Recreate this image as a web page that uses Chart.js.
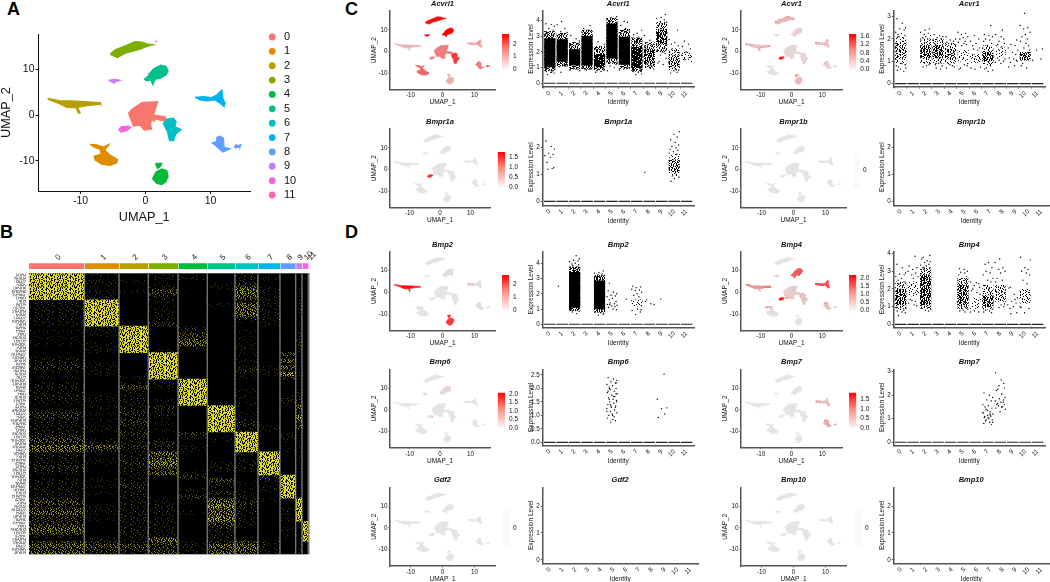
<!DOCTYPE html>
<html>
<head>
<meta charset="utf-8">
<script src="https://cdn.jsdelivr.net/npm/chart.js@4/dist/chart.umd.min.js"></script>
<style>
html, body { margin: 0; padding: 0; background: #fff; overflow: hidden; }
#page { position: relative; width: 1050px; height: 582px; overflow: hidden; }
canvas { position: absolute; }
.tag { position: absolute; font: bold 18px "Liberation Sans", Arial, sans-serif; color: #000; line-height: 18px; }
</style>
</head>
<body>
<div id="page">
  <div class="tag" style="left:7px;top:0px">A</div>
  <div class="tag" style="left:0px;top:223px">B</div>
  <div class="tag" style="left:345px;top:0px">C</div>
  <div class="tag" style="left:345px;top:223px">D</div>
</div>
<script>
// ---- cluster labels and colours
const clusters = ['0', '1', '2', '3', '4', '5', '6', '7', '8', '9', '10', '11'];
const clusterColors = ['#F8766D', '#DE8C00', '#B79F00', '#7CAE00', '#00BA38', '#00C08B', '#00BFC4', '#00B4F0', '#619CFF', '#C77CFF', '#F564E3', '#FF64B0'];

// ---- UMAP cluster outlines
const shape0 = [[-2.62,.36],[-2.1,1.24],[-.56,2.7],[1.85,2.92],[1.64,1.82],[1.23,0],[3.03,-.36],[3.03,-1.24],[1.49,-.88],[.72,-1.46],[.82,-3.14],[-.2,-3.28],[-.82,-2.19],[-1.85,-2.41],[-2.26,-.95],[-2.62,.36]];
const shape1 = [[-8.51,-6.42],[-7.49,-6.5],[-6.46,-7],[-5.64,-6.42],[-6.26,-7.66],[-5.44,-8.76],[-4.31,-9.71],[-4.41,-10.44],[-5.44,-11.02],[-6.72,-10.73],[-7.74,-9.85],[-7.9,-8.98],[-6.82,-8.54],[-6.97,-7.52],[-7.74,-7.15],[-8.51,-6.42]];
const shape2 = [[-15.03,3.65],[-12.87,3.07],[-11.33,3.07],[-6.97,2.7],[-6.87,2.34],[-9.03,2.04],[-10.46,1.68],[-10.05,.51],[-10.3,.36],[-10.67,1.6],[-12.1,1.68],[-13.13,2.41],[-14.92,3.36],[-15.03,3.65]];
const shape3 = [[-5.44,13.28],[-4.67,14.23],[-3.38,14.96],[-1.59,16.06],[-.56,15.91],[.46,15.47],[1.23,15.33],[.2,14.96],[-.82,14.38],[-2.1,13.87],[-3.13,13.5],[-4.31,12.55],[-4.92,12.92],[-5.44,13.28]];
const shape4 = [[1.08,-13.87],[1.64,-12.41],[2.51,-11.75],[3.28,-12.19],[3.49,-13.36],[3.13,-14.6],[2.51,-15.18],[1.74,-14.96],[1.08,-13.87]];
const shape4b = [[1.54,-10.58],[2.51,-10.58],[2.26,-11.31],[1.85,-11.68],[1.54,-10.58]];
const shape5 = [[-.2,7.81],[.46,8.54],[.72,9.27],[1.23,10.07],[2.36,10.88],[3.13,10.66],[3.49,9.71],[3.18,8.76],[2.26,8.03],[1.49,7.81],[1.13,6.64],[.82,7.66],[.2,7.45],[-.2,7.81]];
const shape6 = [[3.03,-.95],[4.31,-.66],[4.72,-1.46],[4.51,-2.55],[5.49,-3.14],[4.67,-4.16],[4.31,-5.62],[3.69,-5.62],[3.38,-3.65],[2.77,-1.97],[3.03,-.95]];
const shape7 = [[7.64,3.87],[8.92,4.01],[10.2,3.8],[10.97,4.38],[11.74,5.47],[11.9,3.65],[12.26,2.55],[12.1,1.82],[11.49,2.55],[10.72,3.28],[9.44,3.07],[8.41,3.28],[7.64,3.87]];
const shape8 = [[10.2,-6.06],[10.87,-5.84],[10.97,-4.89],[11.49,-4.6],[12,-5.11],[12.1,-7.08],[13.03,-7.37],[11.9,-8.1],[11.23,-7.3],[10.72,-6.57],[10.2,-6.06]];
const shape8b = [[13.69,-6.79],[14.67,-6.5],[14.56,-7],[13.79,-7.15],[13.69,-6.79]];
const shape9 = [[-5.69,7.59],[-4.67,7.81],[-3.9,7.59],[-4.67,7.3],[-4.82,6.93],[-5.18,7.23],[-5.69,7.59]];
const shape10 = [[-4.15,-3.14],[-3.64,-2.55],[-2.62,-2.41],[-2.26,-2.7],[-2.87,-3.43],[-3.79,-3.72],[-4.15,-3.14]];
const shapes = [shape0, shape1, shape2, shape3, shape4, shape5, shape6, shape7, shape8, shape9, shape10, shape4b, shape8b];
const shapeCluster = [0, 1, 2, 3, 4, 5, 6, 7, 8, 9, 10, 4, 8];

// stray cells in panel A: x, y, cluster
const strayCells = [[1.64,16.06,10],[1.85,2.8,6],[.6,-1.8,2],[.4,-2.4,1],[.9,-2.9,6],[3.4,-1.6,0],[4,-2,0],[3.2,-1.2,0],[-6.4,-10.2,6],[2.1,9.5,9],[.5,9,9],[13.95,-6.55,0],[-5.7,-6.6,6],[11.6,-6.5,0],[1.4,-1.3,2]];
// gaps inside the cluster clouds
const umapHoles = [[1,8.4],[1.5,8.2],[.7,7.9],[1.3,7.3],[1.9,8.6],[.25,-2.3],[.1,-2.7],[-.3,-2.4],[-.4,-2.8],[2,-.9],[2.4,-.9],[1.9,-1.6]];

// ---- feature plot shading per cluster (0..1 of the colour bar) and hot cells (x, y, shade)
const acvrl1Shade = [.45, .55, .2, .95, .22, 1, .75, .3, .45, 1, .4, .4];
const acvr1Shade = [.06, 0, .15, .2, .18, .08, .08, .12, .08, .08, .9, .05];
const bmpr1aShade = [0, 0, 0, 0, 0, 0, 0, 0, 0, 0, .85, 0];
const noShade = [0, 0, 0, 0, 0, 0, 0, 0, 0, 0, 0, 0];
const bmp2Shade = [0, 0, .95, 0, .75, .03, 0, .03, .05, 0, 0, 0];
const bmp4Shade = [.1, .03, .35, 0, 0, .6, .15, .65, .15, .15, .9, 0];
const bmp6Shade = [0, 0, 0, 0, 0, .05, 0, 0, 0, 0, 0, 0];
const bmp7Shade = [0, 0, 0, 0, 0, 0, 0, .15, .25, 0, 0, 0];

const acvrl1Spots = [[-.4,1.6,.9],[.6,2.2,.9],[1.2,1.5,.8],[-1.2,.2,.8],[.2,.3,.8],[-.6,-1,.7],[2.4,-.6,.9],[3.8,-1.5,.9],[4.2,-3.2,.9],[3.8,-4.2,.9],[-6.2,-9.8,.8],[-5.2,-10.2,.8],[11,-5.5,.7],[11.6,-7.4,.8],[14,-6.8,.9],[2,-13,.4],[2.6,-14.2,.4]];
const acvr1Spots = [[-14.5,3.3,.8],[-13.5,3,.85],[-13,2.8,.8],[-12,2.5,.9],[-11.5,2.3,.8],[-11,2.1,.9],[-10.5,1.9,.9],[-10,2.1,.8],[-9.5,2.2,.7],[-9,2.3,.7],[-8.5,2.4,.9],[-8,2.4,.8],[-7.3,2.5,.9],[-12.5,2.7,.8],[-10.5,.9,.5],
  [-5,13.5,.9],[-4.5,13.6,.85],[-4,13.9,.9],[-3.5,14.3,.8],[-3,14.6,.9],[-2.5,15,.85],[-2,15.4,.9],[-1.5,15.6,.8],[-1,15.7,.9],[-.5,15.5,.7],[0,15.2,.8],[.5,15.1,.6],[-3.8,14.6,.8],[-4.3,13.1,.7],
  [1.2,7.9,.9],[1.7,8.5,.85],[2.2,9,.8],[2.6,9.8,.9],[3,10,.7],[1,8.2,.8],[1.9,9.6,.6],[2.9,9.4,.6],
  [-1,.8,.9],[-.5,1.5,.8],[-1.5,.2,.7],[-.8,-.5,.85],[0,.5,.9],[.3,1.2,.8],[.6,2.3,.9],[1,1.8,.7],[-.3,-.8,.9],[-1.2,-1.5,.7],[-.5,-2,.6],[.3,-1.8,.7],[1,.6,.7],[-1.8,-.4,.7],[-.2,2.1,.6],
  [3.8,-2,.8],[4,-3.2,.8],[4.3,-3.8,.8],[4.6,-3.2,.7],[3.6,-3.6,.8],[4.2,-4.8,.6],[4,-5.2,.7],
  [8,3.8,.8],[9,3.8,.85],[10,3.5,.8],[10.8,3.5,.9],[11.4,4,.9],[11.6,5,.9],[11.2,3,.6],[11.8,2.5,.5],
  [11,-5.5,.7],[11.3,-6.2,.6],[11.7,-7.2,.6],[11.5,-5,.6],[12,-7,.6],
  [1.8,-13.5,.6],[2.3,-12.5,.7],[2.7,-13.2,.7],[2,-14.5,.7],[2.8,-14.2,.6],[1.5,-11.2,.6],[3,-13,.6]];
const bmpr1aSpots = [[.1,1.5,.35],[1.2,1.9,.5],[-.8,.6,.2],[1.7,2.5,.3]];
const bmp2Spots = [[1.8,9,.25],[2.8,8.4,.25],[.5,7.8,.3],[-7.5,-7.5,.2],[-6.8,-7.2,.25],[8.2,3.7,.85],[8.8,3.6,.8],[9.2,3.6,.7],[9.6,3.6,.5],[11,-6,.3],[11.5,-6.5,.25],[-.4,-1.6,.2],[.2,-1.2,.15],[2.1,-10.8,.7],[2,-11.3,.8]];
const bmp4Spots = [[-8,-6.8,.95],[-7.5,-6.8,.9],[-7,-7,.9],[-6.5,-7.2,.95],[-6.6,-7.8,.9],[-7.5,-9.2,.9],[-7,-9.5,.95],[-6.5,-9.7,.8],[-6,-9.6,.5],
  [.5,1.9,.9],[1.1,2.3,.85],[.8,1,.8],[-.8,-.7,.9],[-.2,-.9,.85],[-1.5,-2.4,.9],[-1,-1.4,.9],[-.6,-2.4,.9],[.1,-.2,.8],[.6,-1,.7],[-.2,.6,.7],[1.5,-.3,.7],[2.2,-.6,.7],[2.8,-.9,.85],[-1.9,-1.2,.85],[3,-1.8,.7],[3.8,-1,.8],
  [-8.5,2.5,.95],[-8,2.5,.95],[-7.5,2.5,.9],[-9,2.4,.9],[-7,2.5,.9],[-14,3.3,.9],[-9.6,2.2,.7],
  [11.8,4.9,.95],[11.9,3.5,.95],[12,2.4,.95],[8,3.8,.95],[8.8,3.8,.9],[9.6,3.6,.9],[10.4,3.5,.95],[11.1,3.8,.95],
  [11,-5.2,.95],[11.5,-5,.95],[11.4,-6,.9],[11.8,-6.8,.95],[-13,2.6,.3],
  [.9,8.4,1],[1.3,8.3,1],[1.7,8.5,.95],[2.4,8.2,1],[3,8.9,1],[3.3,9.8,1],[2.9,10.4,.95],[1.6,9.8,.9],[2.3,10.6,1],[.4,8,.95],[.8,7.9,1]];
const bmp6Spots = [[2.5,10.2,.9],[2.8,9.8,.95],[2.2,9.6,.8],[1.6,9,.5],[1.2,8,.4],[.5,7.9,.45],[3.1,9,.35],[-5,7.3,.5],[-2.7,-3,.9],[-3.2,-3,.5],[3,10.3,.6],[1.9,10,.7]];
const bmp7Spots = [[8.2,3.8,.9],[9,3.8,.7],[9.6,3.7,.6],[10.4,3.5,.7],[11.5,4,.8],[12,2.3,.95],[11,-5,.6],[11.4,-5.4,.95],[11.8,-5.6,1],[11.2,-5.4,.95],[11.6,-6.7,.7],[12.2,-7.2,.7],[11.7,3,.6]];

// ---- violin panels: dense band per cluster [low, high, density 1-12], a looser fringe band and the single cells around it
const acvrl1Core = [[1.05,2.85,12],[1.4,2.8,12],[1.15,2.15,12],[1.15,3,12],[1.05,1.85,11],[1.6,3.8,12],[1.2,2.95,12],[1,2.3,11],[1.3,2.2,8],[2.5,3.4,8],[1.05,1.75,6],[1.5,2,2]];
const acvrl1Fringe = [[.8,3.3,6],[1.1,3.2,6],[.9,2.6,6],[.9,3.4,6],[.85,2.35,6],[1.25,4.15,6],[.95,3.45,6],[.75,2.9,6],[1,2.6,4],[2,3.9,4],[.85,2.2,3],null];
const acvrl1Cells = [
  [3.8,3.75,3.65,3.5,3.4,3.3,3.3,3.2,3.15,3.1,3.05,.95,.9,.85,.8,.75,.7,.65,.55,.7,.85,.95],
  [3.95,3.75,3.5,3.3,3.25,3.15,3.1,1.25,1.2,1.15,1.1,.7,1.2,1.05],
  [3.05,2.85,2.7,2.6,2.5,2.45,2.4,2.35,1,.95,.9,.85,.8,.95],
  [3.7,3.5,3.4,3.35,3.25,3.2,.95,.9,.85,1,.95],
  [2.65,2.5,2.35,2.3,2.2,2.15,2.1,.95,.9,.85,.8,.7,.75],
  [4.25,4.2,4.15,4.1,1.4,1.3,1.2,1.1,1,.8,1.35],
  [3.95,3.9,3.7,3.5,3.4,3.3,3.25,3.2,1,.9,.85,.95,1.05],
  [3.4,3.2,3.1,2.95,2.9,2.8,2.7,2.65,.9,.85,.8,.7,.6,.55,.95],
  [3.05,2.75,2.6,2.5,2.45,2.35,2.3,1.2,1.1,1.05,1,.95,.9,1.25,1.15,2.4],
  [4.4,4.2,4.15,4.05,3.95,3.9,3.8,3.7,2.2,2.1,2,1.9,1.8,1.6,1.4,1.3,1.2,2.15,2.05],
  [3.4,2.8,2.6,2.5,2.4,2.2,2.1,2,1.95,.8,.7,.65,.9,.85],
  [2.7,2.5,2.35,2.2,2,1.8,1.65,1.5,1.4]];
const acvr1Core = [[1.1,1.8,5],null,[1.15,1.7,7],[1.15,1.7,7],[1.1,1.55,6],[1,1.5,2],[.95,1.3,3],[1,1.4,7],[1.2,1.6,2],null,[1.05,1.4,7],null];
const acvr1Fringe = [[.85,2.1,2],null,[.9,2,3],[.9,2,3],[.9,1.8,3],null,null,[.85,1.7,3],null,null,null,null];
const acvr1Cells = [
  [2.9,2.7,2.5,2.45,2.4,2.3,2.25,2.2,2.15,2.1,2.05,.8,.7,.65,.55,.6,.9,.85,.75,1.9,1.8],
  [],
  [2.45,2.4,2.3,2.25,2.2,2.15,2.1,2.05,2,1.95,.8,.85,.95,.9,.75],
  [2.2,2.15,2.1,2.05,2,1.95,.9,.85,.8,.7,.65],
  [2.1,2,1.95,1.9,1.85,1.8,1.75,.9,.8,.7,.75,.85],
  [2.3,2.25,2.2,2.1,2.05,2,1.9,1.85,1.8,1.75,1.7,.8,.7,.65,.85,.9],
  [2.15,2,1.9,1.8,1.7,1.6,1.55,1.5,.7,.75,.65],
  [2.6,2.2,2.15,2.1,2,1.95,1.9,1.8,1.7,1.6,.8,.7,.6,.55,.65],
  [2.4,2.2,2.1,2,1.9,1.8,1.75,1.7,1.65,1.1,1.05,1,.95,.9,1.15],
  [1.95,1.75,1.7,1.6,1.5,1.4,1.3,1.15,1.1,1,.95,.8,.75,1.05],
  [3.15,2.6,2.5,2.45,2.3,2.2,2.1,2,1.9,1.8,1.7,1.6,1.5,.9,.8,.7],
  [1.55,1.5,1.1,1.05]];
const bmpr1aCore = [null,null,null,null,null,null,null,null,null,null,[1.1,1.55,6],null];
const bmpr1aFringe = [null,null,null,null,null,null,null,null,null,null,[.95,1.75,2],null];
const bmpr1aCells = [[2.25,2.05,1.95,1.8,1.75,1.7,1.65,1.45,1.25,1.2,1.22],[],[],[],[],[],[],[],[1.08],[],[2.6,2.5,2.4,2.3,2.2,2.1,2.05,2,1.95,1.9,1.85,1.8,1.75,.95,.9,.85,.75,1],[]];
const bmp2Core = [null,null,[1.1,3.4,12],null,[1,2.85,12],null,null,[1.2,1.6,2],null,null,null,null];
const bmp2Fringe = [null,null,[.9,3.75,7],null,[.8,3.2,7],null,null,null,null,null,null,null];
const bmp2Cells = [[],[2.5],
  [4.5,4.3,4.2,4.15,4.1,4,3.95,3.9,3.85,3.8,3.75,3.7,3.65,3.6,.95,.9,.85,.8,.7,.9],[],
  [3.5,3.4,3.35,3.3,3.25,3.2,3.15,3.1,.85,.8,.75,.65,.6,.7],
  [2.7,2.2,2.1,2,1.9,1.85,1.8,1.7,1.6,1.5,1.4,1.35,1.3,1.25,1.2,1.15,1.1,1,.95,1.3],
  [1.65],
  [2.5,2.45,2.4,2.3,2.25,2.2,2.1,2,1.9,1.8,.9,1,.8,.65,.95],
  [1.6,1.5,1.35,1.3],[1.65],[],[]];
const bmp4Core = [[1.1,2,7],[1.6,2.4,2],[1.1,2.8,8],null,null,[1.1,2.2,7],[.9,1.5,2],[1,1.6,7],[1.3,2.2,4],null,[1.2,2,3],null];
const bmp4Fringe = [[.9,2.4,3],null,[.9,3.2,4],null,null,[.9,2.6,4],null,[.85,2.2,3],null,null,null,null];
const bmp4Cells = [
  [3.4,3.2,2.9,2.85,2.8,2.7,2.6,2.5,2.4,2.3,2.2,.95,.9,.85,.8,.75,.7,.65,.5],
  [3.85,3.3,3.2,3.1,3,2.9,2.8,2.7,2.6,1.4,1.3,1.2,1.1,1.05,1.35],
  [3.9,3.8,3.7,3.6,3.55,3.5,3.4,3.35,3.3,3.2,3.15,3.1,.95,.9,.85,.8,.75],
  [],[],
  [3.15,3.1,3,2.95,2.9,2.8,2.7,2.6,2.5,.95,.9,.85,.8,.75,.7],
  [2.4,2.35,2.3,2.2,2.1,2,1.9,1.8,1.7,.75,.7,.7],
  [3.5,3.4,3.2,3,2.9,2.8,2.6,2.5,2.4,2.2,2,.85,.8,.75,.7,.65],
  [3.7,3.5,3.2,3.1,3,2.9,2.6,2.5,2.4,1.1,1,.95,1.15],
  [2.1,2.05,1.7,1.5,1.3,1.2,1.1,1,.9,.65,.6,1.4],
  [3.8,3.65,3.2,3.1,3,2.9,2.8,2.5,2.3,.95,.9,.65,1],
  []];
const bmp6Cells = [[],[],[],[],[],
  [2.4,2.35,2.3,2.25,2.2,2.15,2.1,2.05,2,1.95,1.9,1.85,1.8,1.75,1.7,1.65,1.6,1.55,1.5,1.45,1.4,1.35,1.3,1.25,1.2,1.15,1.1,1.05,1,.95,.9,.85,.8,.75,2.2,2,1.9,1.7,1.5,1.35,1.3,1.15,1,1.6,1.8,1.4],
  [],[],[],[2.53,1.6,1.28,1.25,1.05,.92],[],[]];
const bmp7Cells = [[],[],[],[],[],[],[],
  [2.1,2,1.9,1.8,1.75,1.6,1.55,1.5,1.45,1.4,1.3,1.25,1.2,1.15,1.1,1.05,1,.95,.9,.85,.8,.75,1.35,1.25,1.15,.95,.85,1.05,1.1,1.2],
  [2.95,2.65,2.5,2.4,2.3,2.25,2.2,2.05,1.9,1.85,1.8,1.75,1.7,1.65,1.6,1.55,1.5,1.45,1.4,1.3,1.7,1.6,1.5],
  [],[],[]];
const noBands = [null,null,null,null,null,null,null,null,null,null,null,null];
const noCells = [[],[],[],[],[],[],[],[],[],[],[],[]];

// fixed sideways scatter of cells inside a cluster column
const jitterOffsets = [-.31,.12,.38,-.08,.27,-.4,.05,-.22,.33,-.15,.19,-.36,.41,-.02,.24,-.28,.09,.36,-.18,.15,-.33,.3,-.05,-.41,.21,-.12,.39,.02,-.25,.17,-.38,.07,.28,-.1,.34,-.2];

// ---- tick labels
const umapTicks = ['-10', '0', '10'];
const acvrl1Ticks = ['0', '1', '2', '3', '4'];
const acvr1Ticks = ['0', '1', '2', '3'];
const twoTicks = ['0', '1', '2'];
const bmp6Ticks = ['0.0', '0.5', '1.0', '1.5', '2.0', '2.5'];

// ---- heatmap, panel B: one string per marker row, one digit (yellow level) per cluster column
const heatRows = [
  '910100200000','900120210010','921000100100','910101300000','900201510100','921400610100','910300500100','910100410000',
  '190100210200','290001610100','190100510100','290100510100','190100610000','190100310100','290100110000','190300010100',
  '019020000000','119010100100','019040000200','109030100000','009050000300','119060100300','019020200100','019100000100',
  '000900104000','100900002000','200900105000','210900000000','310900215000','210900312000','010900017100','101900103000',
  '000090000000','102190000000','204190000000','102090100100','201090000100','211090101200','112190002300','102090201200',
  '012309000600','202109000300','313109100000','302109000700','213009200500','103109300100','212009110500','212109210000',
  '203030901000','302020902000','412102901000','321300900000','653210900100','532110901000',
  '101600190000','202400090100','112600190000','213701290000','302502290000','201301190000','101510090000',
  '001030039000','111004029000','202001109000','113002019000','202020129000','212003109000','102030209000',
  '301115210900','402106300900','211207200900','412105201900','511216201900','302106100900','312107101900',
  '302204100090','401103100090','502102001090','402101000090','201102001090','021601100090',
  '432413420105','544316510105','433314520106','532415410104'];
const cellCounts = [165, 102, 86, 87, 86, 81, 67, 64, 45, 17, 17, 2];
const columnGap = 2;
// length of the unreadable gene names left of the heatmap
const rowNameLengths = [30,36,34,28,38,44,40,30,26,32,38,42,30,36,44,28,34,30,26,40,36,42,28,32,
  44,40,36,30,42,38,34,28,46,40,30,36,26,34,38,30,32,42,36,28,46,40,34,30,
  42,36,46,32,40,30,38,28,44,34,30,40,36,44,26,32,46,38,30,42,34,28,36,44,30,38,
  34,40,26,46,36,32,42,38,30,44,36];

// ---- colour bars: tick labels
const acvrl1Bar = ['0', '1', '2'];
const acvr1Bar = ['0.0', '0.4', '0.8', '1.2', '1.6'];
const bmpr1aBar = ['0.0', '0.5', '1.0', '1.5'];
const bmp2Bar = ['0', '1', '2'];
const bmp4Bar = ['0.0', '0.5', '1.0', '1.5', '2.0'];
const bmp6Bar = ['0.0', '0.5', '1.0', '1.5', '2.0'];
const bmp7Bar = ['0.0', '0.5', '1.0', '1.5'];

Chart.defaults.font.family = '"Liberation Sans", Arial, sans-serif';
Chart.defaults.animation = false;
Chart.defaults.plugins.legend.display = false;
Chart.defaults.plugins.tooltip.enabled = false;
Chart.defaults.color = '#222';

const page = document.getElementById('page');

// new canvas holding the wanted plot rectangle at an exact pixel position
function frame(plot, m) {
  const left = Math.floor(plot.left - m.l), top = Math.floor(plot.top - m.t);
  const w = Math.ceil(plot.right + m.r) - left, h = Math.ceil(plot.bottom + m.b) - top;
  const c = document.createElement('canvas');
  c.width = w; c.height = h;
  c.style.left = left + 'px'; c.style.top = top + 'px';
  c.style.width = w + 'px'; c.style.height = h + 'px';
  page.appendChild(c);
  return { ctx: c.getContext('2d'), l: plot.left - left, t: plot.top - top, r: w - (plot.right - left), b: h - (plot.bottom - top) };
}

function fixSize(size) {
  return (s) => {
    if (s.isHorizontal()) s.height = size; else s.width = size;
    s.paddingLeft = s.paddingRight = s.paddingTop = s.paddingBottom = 0;
  };
}

function setTicks(labels) {
  return (s) => { s.ticks = labels.map((t) => ({ value: parseFloat(t), label: t })); };
}

// speckled fill: a pixel of the tile is lit when its mask digit is <= level
const maskRows = ['3a17c52b946817b3c25a694c','8c4a296b1a5738c1b4926a75','25b7a3946c18b5379ac1846b','b193c682a574c9264b17a358',
  '67a4185cb239a6c18357b429','4c92b7316a85b1492ac6783b','a1586c49b372856b3c14a97b','3b7c2a8159c4a6173b98c526',
  '96418b5c37a2c5a49162b837','c2b73a6491584b8c3a7516a9','5874c19ab263916a7c428b3c','1a69b3825c47a28b546c937a'];
const patternCache = {};
function speckle(color, level) {
  const key = color + level;
  if (patternCache[key]) return patternCache[key];
  const tile = document.createElement('canvas');
  tile.width = 24; tile.height = 12;
  const t = tile.getContext('2d');
  t.fillStyle = color;
  maskRows.forEach((row, y) => {
    for (let x = 0; x < 24; x++) if (parseInt(row[x], 16) <= level) t.fillRect(x, y, 1, 1);
  });
  patternCache[key] = t.createPattern(tile, 'repeat');
  return patternCache[key];
}

function shadeColor(s) {
  const g = Math.round(228 * (1 - s));
  return 'rgb(' + Math.round(228 + 27 * s) + ',' + g + ',' + g + ')';
}

function cellAxis(labels, min, max, size, font, color, tickLen, lineWidth, titleText, titleFont) {
  return {
    type: 'linear', min: min, max: max, offset: false,
    afterBuildTicks: setTicks(labels), afterFit: fixSize(size),
    grid: { drawOnChartArea: false, drawTicks: true, tickLength: tickLen, tickColor: color, tickWidth: 1 },
    border: { color: color, width: lineWidth },
    ticks: { font: { size: font }, color: '#111', padding: 1, autoSkip: false, maxRotation: 0, callback: (v, i) => labels[i] },
    title: { display: true, text: titleText, font: { size: titleFont }, color: '#111', padding: 0 }
  };
}

function titleOptions(gene, gap, t) {
  return { display: true, text: gene, fullSize: false, color: '#111', font: { size: 7.5, style: 'italic', weight: 'bold', lineHeight: 1.2 }, padding: { top: Math.max(0, t - 9 - gap), bottom: gap } };
}

// one UMAP panel with grey clusters, shaded by expression
function umapPanel(gene, plot, shade, spots) {
  const f = frame(plot, { l: 19.4, t: 12, r: 3, b: 16.4 });
  const datasets = shapes.map((pts, i) => {
    const col = shadeColor(shade[shapeCluster[i]]);
    return { type: 'scatter', showLine: true, fill: 'shape', tension: 0, pointRadius: 0, borderWidth: .6, borderColor: col, backgroundColor: col, data: pts.map((p) => ({ x: p[0], y: p[1] })) };
  });
  datasets.push({ type: 'scatter', pointRadius: .8, borderWidth: 0, backgroundColor: '#fff', data: umapHoles.map((p) => ({ x: p[0], y: p[1] })) });
  datasets.push({ type: 'scatter', pointRadius: 1.15, borderWidth: 0, backgroundColor: spots.map((p) => shadeColor(p[2])), data: spots.map((p) => ({ x: p[0], y: p[1] })) });
  new Chart(f.ctx, {
    type: 'scatter',
    data: { datasets: datasets },
    options: {
      responsive: false,
      layout: { padding: { right: f.r } },
      plugins: { title: titleOptions(gene, 2.5, f.t) },
      scales: {
        x: cellAxis(umapTicks, -16.4, 16.4, f.b, 6.3, '#555', 1.5, 1.5, 'UMAP_1', 6.5),
        y: cellAxis(umapTicks, -17.5, 18.7, f.l, 6.3, '#555', 1.5, 1.5, 'UMAP_2', 6.5)
      }
    }
  });
}

// one expression panel: dense bands, single cells and the row of zero cells at the bottom
function violinPanel(gene, plot, range, yTicks, fringe, core, cells, hasZero) {
  const f = frame(plot, { l: 15, t: 12, r: 3, b: 19 });
  const unit = (plot.right - plot.left) / 12.2;
  const bandSet = (list) => {
    const bars = [], colors = [];
    list.forEach((c, i) => { if (c) { bars.push({ x: i, y: [c[0], c[1]] }); colors.push(speckle('#000', c[2])); } });
    return { type: 'bar', data: bars, backgroundColor: colors, barThickness: unit * .82, grouped: false };
  };
  const points = [];
  let n = 0;
  cells.forEach((ys, c) => ys.forEach((y) => { points.push({ x: c + jitterOffsets[n % jitterOffsets.length], y: y }); n++; }));
  const zeros = hasZero ? clusters.map((c, i) => ({ x: i, y: 0 })) : [];
  const xAxis = cellAxis(clusters, -.6, 11.6, f.b, 6.3, '#555', 1.5, 1.5, 'Identity', 6.5);
  xAxis.ticks.minRotation = 45;
  xAxis.ticks.maxRotation = 45;
  new Chart(f.ctx, {
    type: 'scatter',
    data: {
      datasets: [
        bandSet(fringe),
        bandSet(core),
        { type: 'scatter', data: points, pointRadius: .7, borderWidth: 0, backgroundColor: '#000' },
        { type: 'scatter', data: zeros, pointStyle: 'line', pointRadius: unit * .45, pointBorderWidth: 1.2, pointBorderColor: '#222', backgroundColor: '#222' }
      ]
    },
    options: {
      responsive: false,
      layout: { padding: { right: f.r } },
      plugins: { title: titleOptions(gene, 2.5, f.t) },
      scales: {
        x: xAxis,
        y: cellAxis(yTicks, range[0], range[1], f.l, 6.3, '#555', 1.5, 1.5, 'Expression Level', 6.5)
      }
    }
  });
}

// gradient colour bar of a UMAP panel; labels 'zero' sits at zeroPx, ppu pixels per unit
function colorBar(left, width, top, zeroPx, ppu, labels) {
  const plot = { left: left, right: left + width, top: top, bottom: zeroPx };
  const f = frame(plot, { l: 0, t: 4, r: 20, b: 4 });
  const grad = f.ctx.createLinearGradient(0, f.t, 0, f.t + zeroPx - top);
  grad.addColorStop(0, 'rgb(255,0,0)');
  grad.addColorStop(.45, 'rgb(255,140,130)');
  grad.addColorStop(1, 'rgb(250,248,248)');
  new Chart(f.ctx, {
    type: 'bar',
    data: { labels: [''], datasets: [{ data: [[0, (zeroPx - top) / ppu]], backgroundColor: grad, barPercentage: 1, categoryPercentage: 1 }] },
    options: {
      responsive: false,
      layout: { padding: { top: f.t, bottom: f.b, left: f.l } },
      scales: {
        x: { display: false },
        y: { position: 'right', min: 0, max: (zeroPx - top) / ppu, afterBuildTicks: setTicks(labels), afterFit: fixSize(f.r),
             grid: { display: false, drawTicks: false }, border: { display: false },
             ticks: { autoSkip: false, font: { size: 6.5 }, color: '#111', padding: 4, callback: (v, i) => labels[i] } }
      }
    }
  });
}

// pale empty bar for genes with no expression at all
function emptyBar(left, width, top, bottom) {
  const plot = { left: left, right: left + width, top: top, bottom: bottom };
  const f = frame(plot, { l: 0, t: 4, r: 14, b: 4 });
  new Chart(f.ctx, {
    type: 'bar',
    data: { labels: [''], datasets: [{ data: [[-1, 1]], backgroundColor: '#fafafa', barPercentage: 1, categoryPercentage: 1 }] },
    options: {
      responsive: false,
      layout: { padding: { top: f.t, bottom: f.b, left: f.l } },
      scales: {
        x: { display: false },
        y: { position: 'right', min: -1, max: 1, afterBuildTicks: setTicks(['0']), afterFit: fixSize(f.r),
             grid: { display: false, drawTicks: false }, border: { display: false },
             ticks: { font: { size: 6.5 }, color: '#111', padding: 3, callback: () => '0' } }
      }
    }
  });
}

// ---- panel A
(function () {
  const f = frame({ left: 38.5, right: 250, top: 34, bottom: 191 }, { l: 39.4, t: 4, r: 4, b: 33.3 });
  const datasets = shapes.map((pts, i) => {
    const col = clusterColors[shapeCluster[i]];
    return { showLine: true, fill: 'shape', tension: 0, pointRadius: 0, borderWidth: 1.2, borderColor: col, backgroundColor: col, data: pts.map((p) => ({ x: p[0], y: p[1] })) };
  });
  datasets.push({ pointRadius: 1, borderWidth: 0, backgroundColor: '#fff', data: umapHoles.map((p) => ({ x: p[0], y: p[1] })) });
  datasets.push({ pointRadius: 1, borderWidth: 0, backgroundColor: strayCells.map((p) => clusterColors[p[2]]), data: strayCells.map((p) => ({ x: p[0], y: p[1] })) });
  new Chart(f.ctx, {
    type: 'scatter',
    data: { datasets: datasets },
    options: {
      responsive: false,
      layout: { padding: { top: f.t, right: f.r } },
      scales: {
        x: cellAxis(umapTicks, -16.46, 16.08, f.b, 10.5, '#111', 3, 1, 'UMAP_1', 12.7),
        y: cellAxis(umapTicks, -16.6, 17.7, f.l, 10.5, '#111', 3, 1, 'UMAP_2', 12.7)
      }
    }
  });
  // cluster key: one dot per cluster with its number on the axis next to it
  const g = frame({ left: 262, right: 280, top: 37, bottom: 195 }, { l: 0, t: 8, r: 24, b: 8 });
  new Chart(g.ctx, {
    type: 'scatter',
    data: { datasets: clusters.map((c, i) => ({ label: c, data: [{ x: 0, y: i }], backgroundColor: clusterColors[i], pointRadius: 3.4, borderWidth: 0, clip: false })) },
    options: {
      responsive: false,
      layout: { padding: { top: g.t, bottom: g.b, left: g.l } },
      scales: {
        x: { display: false, min: -1, max: 1.25 },
        y: { position: 'right', reverse: true, min: 0, max: 11, afterBuildTicks: setTicks(clusters), afterFit: fixSize(g.r),
             grid: { display: false, drawTicks: false }, border: { display: false },
             ticks: { autoSkip: false, font: { size: 11 }, color: '#111', padding: 4, callback: (v, i) => clusters[i] } }
      }
    }
  });
})();

// ---- panel B
(function () {
  const edges = [];
  let pos = 0;
  cellCounts.forEach((w) => { edges.push(pos + w / 2); pos += w + columnGap; });
  const total = pos - columnGap;
  function stackSets(rowCount, colorOf, gapColor) {
    const sets = [];
    cellCounts.forEach((w, c) => {
      sets.push({ data: Array(rowCount).fill(w), backgroundColor: Array.from({ length: rowCount }, (x, r) => colorOf(r, c)), barPercentage: 1, categoryPercentage: 1, borderWidth: 0 });
      if (c < cellCounts.length - 1) sets.push({ data: Array(rowCount).fill(columnGap), backgroundColor: gapColor, barPercentage: 1, categoryPercentage: 1, borderWidth: 0 });
    });
    return sets;
  }
  // colour strip with cluster numbers above it
  const a = frame({ left: 29, right: 309.3, top: 263.3, bottom: 269 }, { l: 0, t: 22, r: 12, b: 0 });
  new Chart(a.ctx, {
    type: 'bar',
    data: { labels: [''], datasets: stackSets(1, (r, c) => clusterColors[c], '#fff') },
    options: {
      indexAxis: 'y', responsive: false,
      layout: { padding: { left: a.l, right: a.r, bottom: a.b } },
      scales: {
        y: { display: false, stacked: true },
        x: { position: 'top', stacked: true, min: 0, max: total, afterFit: fixSize(a.t),
             afterBuildTicks: (s) => { s.ticks = edges.map((v) => ({ value: v })); },
             grid: { display: false }, border: { display: false },
             ticks: { autoSkip: false, minRotation: 45, maxRotation: 45, padding: -7, labelOffset: 7, color: '#222', font: { size: 8 }, callback: (v, i) => clusters[i] } }
      }
    }
  });
  // heatmap, names as grey smear on the negative side
  const h = frame({ left: 10, right: 309.3, top: 273.3, bottom: 554.3 }, { l: 0, t: 0, r: 0, b: 0 });
  const blackBack = {
    id: 'blackBack',
    beforeDatasetsDraw(chart) {
      const x0 = chart.scales.x.getPixelForValue(0);
      chart.ctx.fillStyle = '#000';
      chart.ctx.fillRect(x0, chart.chartArea.top, chart.chartArea.right - x0, chart.chartArea.bottom - chart.chartArea.top);
    }
  };
  const datasets = stackSets(heatRows.length, (r, c) => {
    const v = parseInt(heatRows[r][c], 10);
    if (v === 0) return 'rgba(0,0,0,0)';
    const lit = v === 9 ? 8 : Math.max(1, Math.round(v * .7));
    return speckle('rgba(232,226,30,' + (.2 + v * .085) + ')', lit);
  }, '#757575');
  datasets.push({ data: heatRows.map(() => -9), backgroundColor: 'rgba(0,0,0,0)', barPercentage: 1, categoryPercentage: 1 });
  datasets.push({ data: rowNameLengths.map((v) => -v), backgroundColor: speckle('#9a9a9a', 9), barPercentage: .85, categoryPercentage: 1 });
  new Chart(h.ctx, {
    type: 'bar',
    data: { labels: heatRows.map((r, i) => String(i)), datasets: datasets },
    options: {
      indexAxis: 'y', responsive: false,
      layout: { padding: { left: h.l, top: h.t, right: h.r, bottom: h.b } },
      scales: {
        y: { display: false, stacked: true },
        x: { display: false, stacked: true, min: -57, max: total }
      }
    },
    plugins: [blackBack]
  });
})();

// ---- panels C and D
const rows = [[11, 89.3, 87], [129, 207.3, 205.3], [251.7, 330.3, 327.3], [369.3, 447.7, 445.3], [487.3, 566, 563.3]];
function umapAt(gene, row, left, right, shade, spots) {
  umapPanel(gene, { left: left, right: right, top: rows[row][0], bottom: rows[row][1] }, shade, spots);
}
function violinAt(gene, row, left, right, range, ticks, fringe, core, cells, hasZero) {
  violinPanel(gene, { left: left, right: right, top: rows[row][0], bottom: rows[row][2] }, range, ticks, fringe, core, cells, hasZero);
}

umapAt('Acvrl1', 0, 390, 495.7, acvrl1Shade, acvrl1Spots);
violinAt('Acvrl1', 0, 542.3, 698, [-.24, 4.62], acvrl1Ticks, acvrl1Fringe, acvrl1Core, acvrl1Cells, true);
umapAt('Acvr1', 0, 741, 842.7, acvr1Shade, acvr1Spots);
violinAt('Acvr1', 0, 893.3, 1049, [-.15, 3.25], acvr1Ticks, acvr1Fringe, acvr1Core, acvr1Cells, true);
colorBar(502, 7, 34, 69.5, 12.8, acvrl1Bar);
colorBar(849, 7.3, 34, 69.7, 21, acvr1Bar);

umapAt('Bmpr1a', 1, 390, 491, bmpr1aShade, bmpr1aSpots);
violinAt('Bmpr1a', 1, 542.3, 698, [-.15, 2.7], twoTicks, bmpr1aFringe, bmpr1aCore, bmpr1aCells, true);
umapAt('Bmpr1b', 1, 741, 846.7, noShade, []);
violinAt('Bmpr1b', 1, 893.3, 1049, [-.15, 2.7], twoTicks, noBands, noBands, noCells, false);
colorBar(497.7, 7.3, 152, 187.3, 19.9, bmpr1aBar);
emptyBar(853, 7, 152, 188);

umapAt('Bmp2', 2, 390, 495.7, bmp2Shade, bmp2Spots);
violinAt('Bmp2', 2, 542.3, 698, [-.2, 4.76], acvrl1Ticks, bmp2Fringe, bmp2Core, bmp2Cells, true);
umapAt('Bmp4', 2, 741, 842.7, bmp4Shade, bmp4Spots);
violinAt('Bmp4', 2, 893.3, 1049, [-.17, 4.11], acvrl1Ticks, bmp4Fringe, bmp4Core, bmp4Cells, true);
colorBar(502, 7, 275, 310.7, 13, bmp2Bar);
colorBar(849, 7.3, 275, 310.7, 16.2, bmp4Bar);

umapAt('Bmp6', 3, 390, 491, bmp6Shade, bmp6Spots);
violinAt('Bmp6', 3, 542.3, 698, [-.11, 2.71], bmp6Ticks, noBands, noBands, bmp6Cells, true);
umapAt('Bmp7', 3, 741, 842.7, bmp7Shade, bmp7Spots);
violinAt('Bmp7', 3, 893.3, 1049, [-.13, 3.1], acvr1Ticks, noBands, noBands, bmp7Cells, true);
colorBar(497.7, 7.3, 392.7, 428, 17, bmp6Bar);
colorBar(849, 7.3, 392.7, 428.3, 19.3, bmp7Bar);

umapAt('Gdf2', 4, 390, 495.7, noShade, []);
violinAt('Gdf2', 4, 542.3, 698, [-.13, 2.7], twoTicks, noBands, noBands, noCells, false);
umapAt('Bmp10', 4, 741, 846.7, noShade, []);
violinAt('Bmp10', 4, 893.3, 1049, [-.13, 2.7], twoTicks, noBands, noBands, noCells, false);
emptyBar(503, 7, 510, 546);
emptyBar(855, 7, 510, 546);
</script>
</body>
</html>
